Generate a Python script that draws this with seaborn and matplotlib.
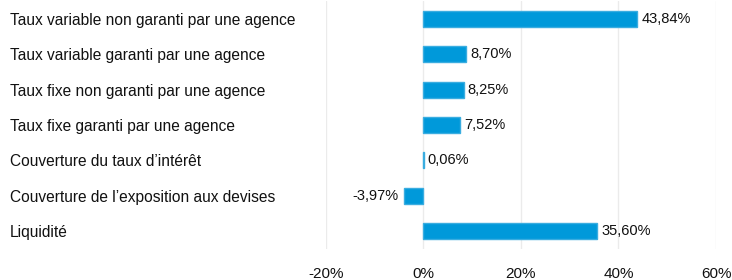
import pandas as pd
import matplotlib
matplotlib.use("Agg")
import matplotlib.pyplot as plt
import seaborn as sns

categories = [
    "Taux variable non garanti par une agence",
    "Taux variable garanti par une agence",
    "Taux fixe non garanti par une agence",
    "Taux fixe garanti par une agence",
    "Couverture du taux d\u2019intérêt",
    "Couverture de l\u2019exposition aux devises",
    "Liquidité",
]
values = [43.84, 8.70, 8.25, 7.52, 0.06, -3.97, 35.60]
x_ticks = [-20, 0, 20, 40, 60]

df = pd.DataFrame({"cat": categories, "val": values})

sns.set_theme(style="white")
plt.rcParams["font.family"] = ["Liberation Sans", "DejaVu Sans"]

fig = plt.figure(figsize=(7.32, 2.8), dpi=100)
ax = fig.add_axes([325.7 / 732, 1 - 248.7 / 280, (716 - 325.7) / 732, (248.7 - 1.3) / 280])

sns.barplot(data=df, x="val", y="cat", color="#0099DA", saturation=1,
            width=0.45, edgecolor="#3AADE0", linewidth=1.0, ax=ax, zorder=3)

ax.set_xlim(-20, 60)
ax.set_ylim(6.5, -0.5)
ax.set_xticks(x_ticks)
ax.set_xticklabels([f"{t}%" for t in x_ticks], fontsize=11, color="#111111")
ax.tick_params(axis="x", length=0, pad=13)
ax.xaxis.grid(True, color="#EBEBEB", linewidth=1, zorder=0)
ax.yaxis.grid(False)
for s in ax.spines.values():
    s.set_visible(False)

ax.set_yticks(range(len(categories)))
ax.set_yticklabels(categories, fontsize=11.2, color="#111111", ha="left")
ax.tick_params(axis="y", length=0, pad=(325.7 - 10) * 0.72)
ax.set_xlabel("")
ax.set_ylabel("")

for i, v in enumerate(values):
    txt = f"{v:.2f}%".replace(".", ",")
    if v >= 0:
        ax.annotate(txt, (v, i), xytext=(3, 0), textcoords="offset points",
                    ha="left", va="center", fontsize=10.5, color="#111111")
    else:
        ax.annotate(txt, (v, i), xytext=(-4, 0), textcoords="offset points",
                    ha="right", va="center", fontsize=10.5, color="#111111")

fig.savefig("out.png", dpi=100)
